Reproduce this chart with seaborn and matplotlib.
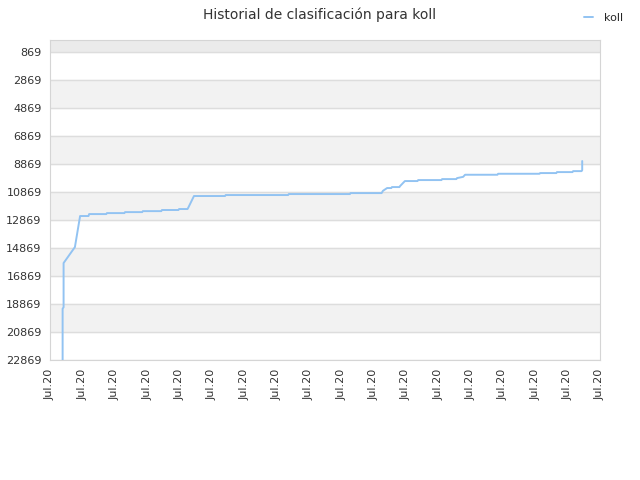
import pandas as pd
import matplotlib
matplotlib.use("Agg")
import matplotlib.pyplot as plt
import seaborn as sns

# rank history (x in tick units, rank value)
days = [0.39, 0.39, 0.42, 0.42, 0.77, 0.93,
        1.19, 1.21, 1.74, 1.76, 2.30, 2.32, 2.85, 2.87, 3.44, 3.46, 3.97, 3.99, 4.25, 4.27,
        4.45, 5.41, 5.43, 7.36, 7.38, 9.27, 9.29, 10.25, 10.29, 10.42, 10.55, 10.57,
        10.80, 10.82, 10.97, 11.36, 11.38, 12.10, 12.12, 12.56, 12.58, 12.77, 12.83,
        13.83, 13.85, 15.13, 15.15, 15.65, 15.67, 16.15, 16.17, 16.43, 16.45, 16.45]
ranks = [22869, 19200, 19100, 15940, 14800, 12580,
         12580, 12440, 12440, 12370, 12370, 12300, 12300, 12230, 12230, 12150, 12150, 12080, 12080, 12000,
         11150, 11150, 11080, 11080, 11010, 11010, 10940, 10940, 10780, 10580, 10580, 10510,
         10510, 10440, 10080, 10080, 10010, 10010, 9940, 9940, 9870, 9780, 9630,
         9630, 9560, 9560, 9510, 9510, 9440, 9440, 9370, 9370, 9300, 8650]
y_ticks = [869, 2869, 4869, 6869, 8869, 10869, 12869, 14869, 16869, 18869, 20869, 22869]
x_labels = ["Jul.20"] * 18

df = pd.DataFrame({"day": days, "rank": ranks, "player": "koll"})

sns.set_style("white")
plt.rcParams["font.family"] = ["DejaVu Sans"]

fig = plt.figure(figsize=(6.4, 4.8), dpi=100)
ax = fig.add_axes([50 / 640, 1 - 360 / 480, 550 / 640, 320 / 480])

# alternating bands
ax.axhspan(0, 869, color="#ebebeb", zorder=0)
for lo in [2869, 6869, 10869, 14869, 18869]:
    ax.axhspan(lo, lo + 2000, color="#f2f2f2", zorder=0)

sns.lineplot(data=df, x="day", y="rank", sort=False, estimator=None,
             color="#92c3f2", linewidth=1.4, ax=ax, label="koll", zorder=3)

ax.set_xlim(0, 17)
ax.set_ylim(22869, 0)
ax.set_yticks(y_ticks)
ax.set_yticklabels([str(v) for v in y_ticks], fontsize=8, color="#333333")
ax.set_xticks(range(18))
ax.set_xticklabels(x_labels, rotation=90, fontsize=8, color="#333333")
ax.yaxis.grid(True, color="#dddddd", linewidth=1, zorder=1)
ax.set_axisbelow(True)
ax.tick_params(length=0, pad=6)
ax.set_xlabel("")
ax.set_ylabel("")
for s in ax.spines.values():
    s.set_color("#d5d5d5")

fig.suptitle("Historial de clasificación para koll", x=0.5, y=0.985, fontsize=10, color="#333333")
ax.legend(loc="upper right", bbox_to_anchor=(1.06, 1.115), frameon=False, fontsize=8,
          handlelength=0.8, handletextpad=1.0)

fig.savefig("out.png", dpi=100)
